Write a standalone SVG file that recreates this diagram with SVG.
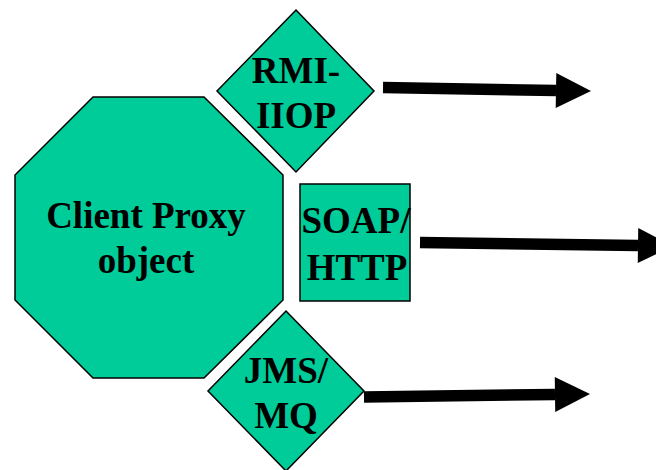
<svg xmlns="http://www.w3.org/2000/svg" width="656" height="470" viewBox="0 0 656 470">
  <style>
    .shape { fill: #00CC99; stroke: #000000; stroke-width: 1.5; stroke-linejoin: miter; }
    .label { font-family: "Liberation Serif", "Times New Roman", serif; font-weight: bold; font-size: 37px; fill: #000000; text-anchor: middle; }
    .conn { stroke: #000000; stroke-width: 11.5; fill: none; marker-end: url(#head); }
  </style>
  <defs>
    <marker id="head" markerUnits="userSpaceOnUse" markerWidth="36" markerHeight="36" refX="0" refY="17.5" orient="auto" overflow="visible">
      <path d="M0,0 L35,17.5 L0,35 Z" fill="#000000"/>
    </marker>
  </defs>

  <rect x="0" y="0" width="656" height="470" fill="#ffffff"/>

  <g id="client-proxy">
    <polygon class="shape" points="93,97 204,97 283,175 283,300 204,378 93,378 15,300 15,175"/>
    <text class="label" x="146" y="228">Client Proxy</text>
    <text class="label" x="146" y="273">object</text>
  </g>

  <g id="rmi-iiop">
    <polygon class="shape" points="296,10 374,91 296,172 217,91"/>
    <text class="label" x="296" y="83">RMI-</text>
    <text class="label" x="296" y="128">IIOP</text>
  </g>

  <g id="soap-http">
    <rect class="shape" x="300" y="184" width="110" height="117"/>
    <text class="label" x="356" y="233">SOAP/</text>
    <text class="label" x="357" y="280">HTTP</text>
  </g>

  <g id="jms-mq">
    <polygon class="shape" points="286,311 364,391 286,471 208,391"/>
    <text class="label" x="286" y="383">JMS/</text>
    <text class="label" x="286" y="428">MQ</text>
  </g>

  <g id="connectors">
    <line class="conn" x1="383" y1="87.5" x2="556" y2="90.5"/>
    <line class="conn" x1="420" y1="242.5" x2="638" y2="245.5"/>
    <line class="conn" x1="364" y1="397" x2="555" y2="394.5"/>
  </g>
</svg>
